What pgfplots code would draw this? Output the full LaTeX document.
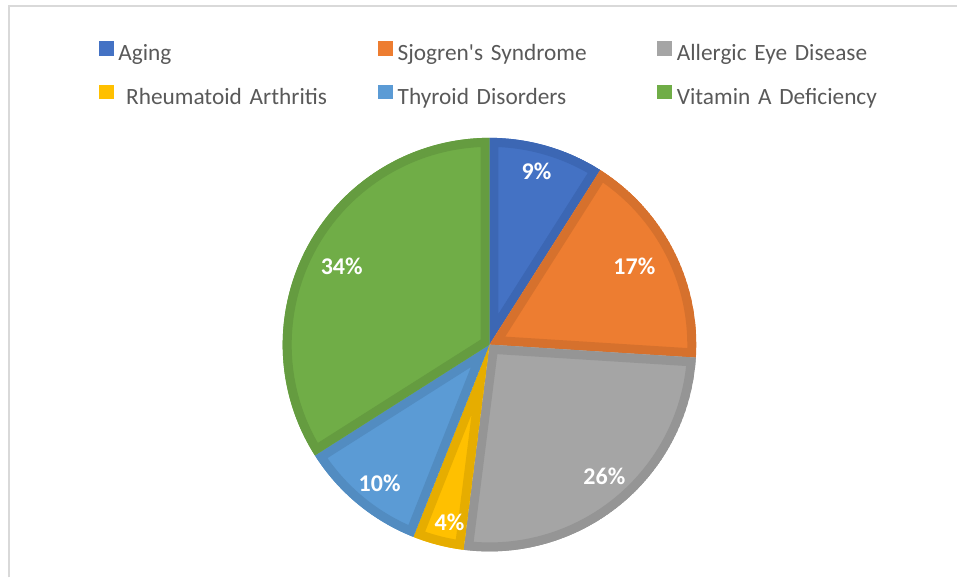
\documentclass[border=0pt]{standalone}
\usepackage{pgfplots}
\usepackage{pgfplotstable}
\pgfplotsset{compat=1.18}
\usepackage{fontspec}
\setmainfont{Carlito}[Ligatures=TeXOff]

\definecolor{f0}{HTML}{4472C4}\definecolor{b0}{HTML}{3C67B4}
\definecolor{f1}{HTML}{ED7D31}\definecolor{b1}{HTML}{D6712D}
\definecolor{f2}{HTML}{A5A5A5}\definecolor{b2}{HTML}{959595}
\definecolor{f3}{HTML}{FFC000}\definecolor{b3}{HTML}{E6AD00}
\definecolor{f4}{HTML}{5B9BD5}\definecolor{b4}{HTML}{528CC1}
\definecolor{f5}{HTML}{70AD47}\definecolor{b5}{HTML}{659C40}
\definecolor{legtext}{HTML}{595959}
\definecolor{framec}{HTML}{D9D9D9}

\pgfplotstableread{
name value
Aging 9
Sjogren 17
Allergic 26
Rheumatoid 4
Thyroid 10
VitaminA 34
}\piedata

\newcommand\slice[3]{%
  \begin{scope}
    \clip (axis cs:490,233) -- ++(#2:155.25pt) arc[start angle=#2,end angle=#3,radius=155.25pt] -- cycle;
    \filldraw[fill=f#1,draw=b#1,line width=13.5pt,line join=miter] (axis cs:490,233) -- ++(#2:155.25pt) arc[start angle=#2,end angle=#3,radius=155.25pt] -- cycle;
  \end{scope}}

\begin{document}
\begin{tikzpicture}
\begin{axis}[
  width=718.5pt, height=433.5pt, scale only axis,
  xmin=0, xmax=958, ymin=0, ymax=578,
  hide axis, clip=false,
  legend columns=3,
  legend image code/.code={\fill[#1] (0pt,0pt) rectangle (10.5pt,10.5pt);},
  legend style={
    at={(axis cs:99,537)}, anchor=north west,
    draw=none, fill=none, inner sep=0pt, outer sep=0pt,
    row sep=14pt,
    font=\fontsize{17.5}{21}\selectfont, text=legtext,
    nodes={inner sep=0pt, text height=12pt, text depth=4pt, align=left},
    /tikz/every odd column/.append style={column sep=3.75pt},
    /tikz/every even column/.append style={text width=195pt},
  },
  legend cell align=left,
]
\path (axis cs:0,0) rectangle (axis cs:958,578);
\draw[framec, line width=1.5pt] (axis cs:9,0) -- (axis cs:9,572) -- (axis cs:958,572);

\def\cum{0}
\pgfplotsforeachungrouped \i in {0,...,5}{%
  \pgfplotstablegetelem{\i}{value}\of\piedata
  \pgfmathsetmacro\sa{90-3.6*\cum}%
  \pgfmathsetmacro\cum{\cum+\pgfplotsretval}%
  \pgfmathsetmacro\ea{90-3.6*\cum}%
  \edef\temp{\noexpand\slice{\i}{\sa}{\ea}}\temp
}

\addlegendimage{f0}\addlegendentry{Aging}
\addlegendimage{f1}\addlegendentry{Sjogren's Syndrome}
\addlegendimage{f2}\addlegendentry{Allergic Eye Disease}
\addlegendimage{f3}\addlegendentry{\ Rheumatoid Arthritis}
\addlegendimage{f4}\addlegendentry{Thyroid Disorders}
\addlegendimage{f5}\addlegendentry{Vitamin A Deficiency}

\begin{scope}[every node/.style={text=white, font=\bfseries\fontsize{18}{22}\selectfont}]
\node at (axis cs:537,406) {9\%};
\node at (axis cs:635,311) {17\%};
\node at (axis cs:605,101) {26\%};
\node at (axis cs:450,55) {4\%};
\node at (axis cs:380,94) {10\%};
\node at (axis cs:342,311) {34\%};
\end{scope}
\end{axis}
\end{tikzpicture}
\end{document}
